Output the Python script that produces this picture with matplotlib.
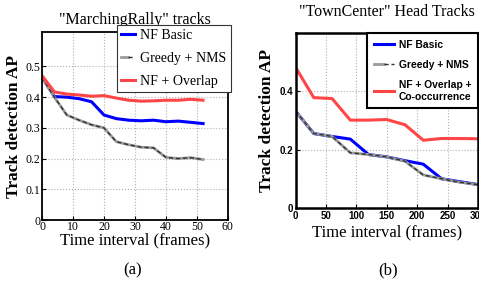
import matplotlib
matplotlib.use("Agg")
import matplotlib.pyplot as plt
from matplotlib.lines import Line2D
from matplotlib.legend_handler import HandlerTuple

SERIF = ["Liberation Serif", "DejaVu Serif"]
NARROW = ["Liberation Sans Narrow", "Liberation Sans", "DejaVu Sans"]

# (a) "MarchingRally" tracks
rally_x = [0, 4, 8, 12, 16, 20, 24, 28, 32, 36, 40, 44, 48, 52]
rally_basic = [0.465, 0.402, 0.400, 0.395, 0.385, 0.342, 0.330, 0.325, 0.323, 0.325, 0.320, 0.322, 0.318, 0.314]
rally_greedy = [0.465, 0.400, 0.342, 0.325, 0.310, 0.300, 0.255, 0.245, 0.237, 0.235, 0.204, 0.200, 0.203, 0.197]
rally_overlap = [0.470, 0.417, 0.410, 0.407, 0.403, 0.405, 0.397, 0.390, 0.387, 0.388, 0.390, 0.390, 0.393, 0.390]

# (b) "TownCenter" head tracks
town_x = [0, 30, 60, 90, 120, 150, 180, 210, 240, 270, 300]
town_basic = [0.332, 0.255, 0.245, 0.236, 0.183, 0.175, 0.162, 0.150, 0.100, 0.090, 0.080]
town_greedy = [0.332, 0.255, 0.245, 0.189, 0.183, 0.175, 0.160, 0.113, 0.100, 0.088, 0.080]
town_overlap = [0.482, 0.378, 0.375, 0.301, 0.301, 0.303, 0.285, 0.232, 0.238, 0.238, 0.237]

labels_a = ["NF Basic", "Greedy + NMS", "NF + Overlap"]
labels_b = ["NF Basic", "Greedy + NMS", "NF + Overlap +\nCo-occurrence"]

BLUE = "#0000ff"
RED = "#ff4545"
GRAY = "#9a9a9a"


def draw(ax, x, basic, greedy, overlap):
    hb, = ax.plot(x, basic, color=BLUE, lw=2.2)
    ax.plot(x, greedy, color=GRAY, lw=2.0)
    ax.plot(x, greedy, color="#333333", lw=1.0, dashes=(3, 2))
    hr, = ax.plot(x, overlap, color=RED, lw=2.2)
    hg = (Line2D([], [], color=GRAY, lw=2.0), Line2D([], [], color="#333333", lw=1.0, dashes=(3, 2)))
    ax.grid(True, color="#b0b0b0", linestyle=":", lw=0.8)
    ax.tick_params(direction="in", length=3, width=0.8, top=False, right=False)
    return [hb, hg, hr]


fig = plt.figure(figsize=(4.79, 2.81), dpi=100)

ax1 = fig.add_axes([0.0877, 0.217, 0.388, 0.669])
h = draw(ax1, rally_x, rally_basic, rally_greedy, rally_overlap)
ax1.set_xlim(0, 60)
ax1.set_ylim(0, 0.612)
ax1.set_xticks([0, 10, 20, 30, 40, 50, 60])
ax1.set_yticks([0, 0.1, 0.2, 0.3, 0.4, 0.5])
ax1.set_yticklabels(["0", "0.1", "0.2", "0.3", "0.4", "0.5"])
for lab in ax1.get_xticklabels() + ax1.get_yticklabels():
    lab.set_family(SERIF)
    lab.set_fontsize(8.5)
ax1.tick_params(pad=1)
for s in ax1.spines.values():
    s.set_linewidth(1.3)
ax1.set_title('"MarchingRally" tracks', family=SERIF, fontsize=11.5, pad=6)
ax1.set_ylabel("Track detection AP", family=SERIF, fontsize=12.5, fontweight="bold", labelpad=3)
ax1.set_xlabel("Time interval (frames)", family=SERIF, fontsize=12, labelpad=-1)
leg1 = ax1.legend(h, labels_a, loc="upper right", bbox_to_anchor=(1.016, 1.037), borderaxespad=0,
                  prop={"family": SERIF, "size": 10}, handlelength=1.0, handletextpad=0.4,
                  labelspacing=0.7, borderpad=0.3, fancybox=False, framealpha=1,
                  handler_map={tuple: HandlerTuple(ndivide=None, pad=0)})
leg1.get_frame().set_edgecolor("#333333")
leg1.get_frame().set_linewidth(0.8)

ax2 = fig.add_axes([0.617, 0.26, 0.381, 0.623])
h = draw(ax2, town_x, town_basic, town_greedy, town_overlap)
ax2.set_xlim(0, 300)
ax2.set_ylim(0, 0.6)
ax2.set_xticks([0, 50, 100, 150, 200, 250, 300])
ax2.set_yticks([0, 0.2, 0.4])
ax2.set_yticklabels(["0", "0.2", "0.4"])
for lab in ax2.get_xticklabels() + ax2.get_yticklabels():
    lab.set_family(NARROW)
    lab.set_fontsize(7)
    lab.set_fontweight("bold")
ax2.tick_params(pad=2)
for s in ax2.spines.values():
    s.set_linewidth(1.8)
ax2.set_title('"TownCenter" Head Tracks', family=SERIF, fontsize=11.5, pad=12)
ax2.set_ylabel("Track detection AP", family=SERIF, fontsize=12.5, fontweight="bold", labelpad=3)
ax2.set_xlabel("Time interval (frames)", family=SERIF, fontsize=12, labelpad=3)
leg2 = ax2.legend(h, labels_b, loc="upper right", bbox_to_anchor=(1.0, 1.0), borderaxespad=0,
                  prop={"family": NARROW, "size": 7.4, "weight": "bold"}, handlelength=1.9,
                  handletextpad=0.5, labelspacing=1.0, borderpad=0.65, fancybox=False, framealpha=1,
                  handler_map={tuple: HandlerTuple(ndivide=None, pad=0)})
leg2.get_frame().set_edgecolor("black")
leg2.get_frame().set_linewidth(1.5)

fig.text(133 / 479, 1 - 270 / 281, "(a)", family=SERIF, fontsize=12, ha="center", va="center")
fig.text(388 / 479, 1 - 270 / 281, "(b)", family=SERIF, fontsize=12, ha="center", va="center")

fig.savefig("out.png", dpi=100)
